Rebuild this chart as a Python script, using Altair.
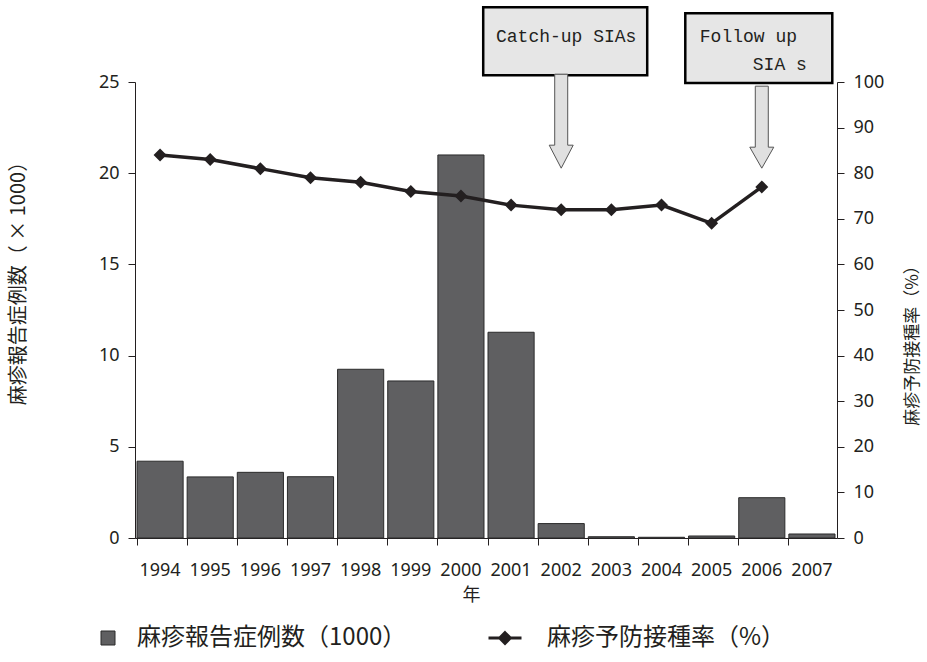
import altair as alt
import pandas as pd

# ---- data ----
years = ["1994", "1995", "1996", "1997", "1998", "1999", "2000",
         "2001", "2002", "2003", "2004", "2005", "2006", "2007"]
cases = [4.21, 3.35, 3.60, 3.36, 9.25, 8.61, 21.0,
         11.28, 0.79, 0.07, 0.04, 0.11, 2.21, 0.22]   # x1000
rates = [84, 83, 81, 79, 78, 76, 75,
         73, 72, 72, 73, 69, 77, None]               # %

cases_label = "麻疹報告症例数（1000）"
rate_label = "麻疹予防接種率（%）"
left_title = "麻疹報告症例数（ × 1000）"
right_title = "麻疹予防接種率（%）"
x_title = "年"

catch_year = ["2002"]
catch_text = "Catch-up SIAs"
follow_year = ["2006"]
follow_text_1 = "Follow up"
follow_text_2 = "SIA s"

left_ticks = [0, 5, 10, 15, 20, 25]
right_ticks = [0, 10, 20, 30, 40, 50, 60, 70, 80, 90, 100]

df = pd.DataFrame({"year": years, "cases": cases, "rate": rates,
                   "cl": cases_label, "rl": rate_label})
df_catch = pd.DataFrame({"year": catch_year})
df_follow = pd.DataFrame({"year": follow_year})

INK = "#231f20"
CJK = "Noto Sans CJK JP"
NUM = "Noto Sans"

xscale = alt.Scale(paddingInner=0.08, paddingOuter=0.04)
x_enc = alt.X("year:N", scale=xscale, sort=years,
              axis=alt.Axis(title=x_title, labelAngle=0, labelFont=NUM,
                            labelFontSize=18, labelPadding=16, tickSize=7,
                            bandPosition=0, titleFont=CJK, titleFontSize=18,
                            titleFontWeight="normal", titleX=336, titleY=57,
                            titleBaseline="middle", titleAlign="center",
                            labelColor=INK, titleColor=INK))

bars = alt.Chart(df).mark_bar(stroke="#2b2b2b", strokeWidth=1).encode(
    x=x_enc,
    y=alt.Y("cases:Q", scale=alt.Scale(domain=[0, 25], nice=False),
            axis=alt.Axis(orient="left", values=left_ticks, title=left_title,
                          tickSize=7, labelPadding=9, labelFont=NUM,
                          labelFontSize=18, labelColor=INK, titleFont=CJK,
                          titleFontSize=20, titleFontWeight="normal",
                          titleColor=INK, titleAngle=270, titleX=-117,
                          titleY=196, titleAlign="center",
                          titleBaseline="middle", grid=False)),
    fill=alt.Fill("cl:N", scale=alt.Scale(range=["#5f5f61"]),
                  legend=alt.Legend(title=None, orient="none", legendX=-39,
                                    legendY=544, padding=0, symbolType="square",
                                    symbolSize=196, symbolStrokeColor="#2b2b2b",
                                    symbolStrokeWidth=1, labelFont=CJK,
                                    labelFontSize=24, labelOffset=17,
                                    labelColor=INK, labelLimit=400)),
)

rscale = alt.Scale(domain=[0, 100], nice=False)
ry = dict(scale=rscale)

line_path = "M-1,0H1M0,-0.32L0.32,0L0,0.32L-0.32,0Z"
line = alt.Chart(df).mark_line(strokeWidth=3.5).encode(
    x=alt.X("year:N", sort=years),
    y=alt.Y("rate:Q", scale=rscale,
            axis=alt.Axis(orient="right", values=right_ticks, title=right_title,
                          tickSize=7, labelPadding=9, labelFont=NUM,
                          labelFontSize=18, labelColor=INK, titleFont=CJK,
                          titleFontSize=17, titleFontWeight="normal",
                          titleColor=INK, titleAngle=270, titleX=75,
                          titleY=259, titleAlign="center",
                          titleBaseline="middle", grid=False)),
    stroke=alt.Stroke("rl:N", scale=alt.Scale(range=[INK]),
                      legend=alt.Legend(title=None, orient="none", legendX=352,
                                        legendY=538, padding=0,
                                        symbolType=line_path, symbolSize=1089,
                                        symbolStrokeWidth=3,
                                        symbolFillColor=INK,
                                        labelFont=CJK, labelFontSize=24,
                                        labelOffset=24, labelColor=INK,
                                        labelLimit=400)),
)

points = alt.Chart(df).mark_point(shape="diamond", filled=True, size=169,
                                  color=INK, opacity=1).encode(
    x=alt.X("year:N", sort=years),
    y=alt.Y("rate:Q", **ry),
)

BOX_FILL = "#e6e6e6"
catch_box = alt.Chart(df_catch).mark_bar(width=164, xOffset=4, fill=BOX_FILL,
                                         stroke="black", strokeWidth=2.5).encode(
    x=alt.X("year:N", sort=years),
    y=alt.Y(datum=116.4, **ry),
    y2=alt.Y2(datum=101.5),
)
follow_box = alt.Chart(df_follow).mark_bar(width=147, xOffset=-3, fill=BOX_FILL,
                                           stroke="black", strokeWidth=2.5).encode(
    x=alt.X("year:N", sort=years),
    y=alt.Y(datum=115.1, **ry),
    y2=alt.Y2(datum=99.8),
)

catch_txt = alt.Chart(df_catch).mark_text(text=catch_text, font="Liberation Mono",
                                          fontSize=18, color=INK, align="center",
                                          baseline="middle", dx=5).encode(
    x=alt.X("year:N", sort=years),
    y=alt.Y(datum=109.9, **ry),
)
follow_txt1 = alt.Chart(df_follow).mark_text(text=follow_text_1, font="Liberation Mono",
                                             fontSize=18, color=INK, align="left",
                                             baseline="middle", dx=-62).encode(
    x=alt.X("year:N", sort=years),
    y=alt.Y(datum=109.9, **ry),
)
follow_txt2 = alt.Chart(df_follow).mark_text(text=follow_text_2, font="Liberation Mono",
                                             fontSize=18, color=INK, align="left",
                                             baseline="middle", dx=-9).encode(
    x=alt.X("year:N", sort=years),
    y=alt.Y(datum=103.7, **ry),
)

ARROW_FILL = "#e0e0e0"
catch_arrow_shape = "M-6.5,-94V-23H-12L0,0L12,-23H6.5V-94Z"
follow_arrow_shape = "M-6.5,-82V-21H-12L0,0L12,-21H6.5V-82Z"
catch_arrow = alt.Chart(df_catch).mark_point(shape=catch_arrow_shape, size=4,
                                             filled=True, fill=ARROW_FILL,
                                             stroke="#555555", strokeWidth=1,
                                             opacity=1).encode(
    x=alt.X("year:N", sort=years),
    y=alt.Y(datum=81.1, **ry),
)
follow_arrow = alt.Chart(df_follow).mark_point(shape=follow_arrow_shape, size=4,
                                               filled=True, fill=ARROW_FILL,
                                               stroke="#555555", strokeWidth=1,
                                               opacity=1).encode(
    x=alt.X("year:N", sort=years),
    y=alt.Y(datum=81.1, **ry),
)

right_layer = alt.layer(line, points, catch_box, follow_box, catch_txt,
                        follow_txt1, follow_txt2, catch_arrow, follow_arrow)

chart = alt.layer(bars, right_layer).resolve_scale(
    y="independent", fill="independent", stroke="independent"
).properties(
    width=702, height=456,
    autosize=alt.AutoSizeParams(type="none"),
    padding={"left": 135, "top": 82, "right": 90, "bottom": 124},
).configure_view(stroke=None).configure_axis(
    domainColor=INK, tickColor=INK, domainWidth=1, tickWidth=1
)

chart.save("out.html", embed_options={"renderer": "svg", "actions": False})
